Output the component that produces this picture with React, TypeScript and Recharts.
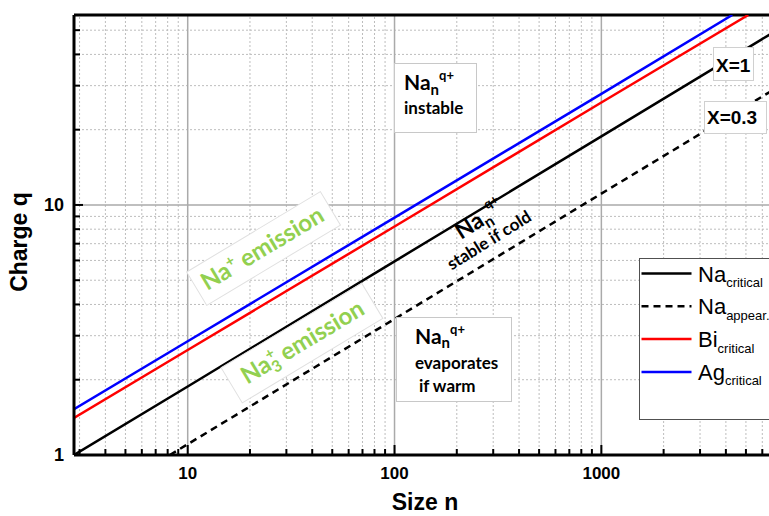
import React from 'react';
import { LineChart, Line, XAxis, YAxis, ReferenceLine, Legend } from 'recharts';

// ---------- axis ticks ----------
const xTicks = [3, 4, 5, 6, 7, 8, 9, 10, 20, 30, 40, 50, 60, 70, 80, 90, 100, 200, 300, 400, 500, 600, 700, 800, 900, 1000, 2000, 3000, 4000, 5000, 6000];
const xLabelTicks = [10, 100, 1000];
const yTicks = [1, 2, 3, 4, 5, 6, 7, 8, 9, 10, 20, 30, 40, 50];
const yLabelTicks = [1, 10];
const xDomain = [2.82, 6610];
const yDomain = [1, 57.5];

// ---------- series ----------
const naCriticalN = [2.82, 10, 100, 1000, 6610];
const naCriticalQ = [1.0, 1.88, 5.95, 18.8, 48.4];
const naAppearN = [8.2, 100, 1000, 6610];
const naAppearQ = [1.0, 3.5, 11.1, 28.5];
const biCriticalN = [2.82, 10, 100, 1000, 5130];
const biCriticalQ = [1.406, 2.63, 8.2, 25.7, 57.5];
const agCriticalN = [2.82, 10, 100, 1000, 4295];
const agCriticalQ = [1.524, 2.85, 8.9, 27.8, 57.5];

// ---------- legend ----------
const legendBase = ['Na', 'Na', 'Bi', 'Ag'];
const legendSub = ['critical', 'appear.', 'critical', 'critical'];
const seriesColors = ['#000000', '#000000', '#ff0000', '#0000ff'];
const seriesDash = ['', '7 5', '', ''];

const toPts = (ns: number[], qs: number[]) => ns.map((n, i) => ({ n, q: qs[i] }));
const seriesData = [
  toPts(naCriticalN, naCriticalQ),
  toPts(naAppearN, naAppearQ),
  toPts(biCriticalN, biCriticalQ),
  toPts(agCriticalN, agCriticalQ),
];
const seriesNames = ['Na critical', 'Na appear.', 'Bi critical', 'Ag critical'];

const AX = "'Liberation Sans', Arial, sans-serif";
const ANN = "Lato, 'Liberation Sans', sans-serif";
const GREEN = '#92D050';

const XTick = (props: any) => {
  const { x, y, payload } = props;
  const v = payload.value;
  const major = xLabelTicks.includes(v);
  return (
    <g>
      <line x1={x} x2={x} y1={y} y2={y - (major ? 10 : 6)} stroke="#000" strokeWidth={2} />
      {major && (
        <text x={x} y={y + 24} textAnchor="middle" fontFamily={AX} fontWeight="bold" fontSize={17} fill="#000">
          {v}
        </text>
      )}
    </g>
  );
};

const YTick = (props: any) => {
  const { x, y, payload } = props;
  const v = payload.value;
  const major = yLabelTicks.includes(v);
  return (
    <g>
      <line x1={x} x2={x + (major ? 9 : 6)} y1={y} y2={y} stroke="#000" strokeWidth={2} />
      {major && (
        <text x={x - 10} y={y + 6} textAnchor="end" fontFamily={AX} fontWeight="bold" fontSize={18} fill="#000">
          {v}
        </text>
      )}
    </g>
  );
};

const renderLegend = () => (
  <svg width={150} height={163} style={{ display: 'block' }}>
    <rect x={0.5} y={0.5} width={149} height={161} fill="#fff" stroke="#505050" strokeWidth={1} />
    {legendBase.map((b, i) => {
      const cy = 15.5 + i * 32.8;
      return (
        <g key={i}>
          <line x1={2.5} x2={52.5} y1={cy} y2={cy} stroke={seriesColors[i]} strokeWidth={2.5} strokeDasharray={seriesDash[i] || undefined} />
          <text x={59} y={cy + 8} fontFamily={AX} fontSize={22} fill="#000">
            {b}
            <tspan dy={5.5} fontSize={13}>{legendSub[i]}</tspan>
          </text>
        </g>
      );
    })}
  </svg>
);

const Annotations = () => (
  <svg width={769} height={516} style={{ position: 'absolute', left: 0, top: 0, pointerEvents: 'none' }}>
    {/* instable */}
    <rect x={394.5} y={63.5} width={82} height={69} fill="#fff" stroke="#c8c8c8" />
    <text x={404} y={90} fontFamily={ANN} fontWeight="bold" fontSize={21} fill="#000">
      Na<tspan dy={5} fontSize={15}>n</tspan>
      <tspan dy={-15} fontSize={13}>q+</tspan>
    </text>
    <text x={404} y={114} fontFamily={ANN} fontWeight="bold" fontSize={17} fill="#000">instable</text>

    {/* X=1 */}
    <rect x={713.5} y={47.5} width={40} height={33} fill="#fff" stroke="#d0d0d0" />
    <text x={716} y={71.5} fontFamily={AX} fontWeight="bold" fontSize={19} fill="#000">X=1</text>

    {/* X=0.3 */}
    <rect x={704.5} y={101.5} width={62} height={32} fill="#fff" stroke="#d0d0d0" />
    <text x={707} y={124} fontFamily={AX} fontWeight="bold" fontSize={19} fill="#000">X=0.3</text>

    {/* Na+ emission */}
    <g transform="translate(264,257) rotate(-31)">
      <rect x={-74} y={-27} width={156} height={39} fill="#fff" stroke="#e0e0e0" />
      <text x={3} y={0} textAnchor="middle" fontFamily={ANN} fontWeight="bold" fontSize={24} fill={GREEN}>
        Na<tspan dy={-9} fontSize={15}>+</tspan>
        <tspan dy={9}> emission</tspan>
      </text>
    </g>

    {/* Na3+ emission */}
    <g transform="translate(305,350) rotate(-31)">
      <rect x={-81} y={-28} width={164} height={41} fill="#fff" stroke="#e0e0e0" />
      <text x={2} y={0} textAnchor="middle" fontFamily={ANN} fontWeight="bold" fontSize={24} fill={GREEN}>
        Na<tspan dy={5} fontSize={16}>3</tspan>
        <tspan dx={-9} dy={-15} fontSize={15}>+</tspan>
        <tspan dy={10}> emission</tspan>
      </text>
    </g>

    {/* stable if cold */}
    <g transform="translate(461,240) rotate(-32)">
      <text x={0} y={0} fontFamily={ANN} fontWeight="bold" fontSize={23} fill="#000">
        Na<tspan dy={5} fontSize={16}>n</tspan>
        <tspan dy={-17} fontSize={13}>q+</tspan>
      </text>
      <text x={-24} y={21} fontFamily={ANN} fontWeight="bold" fontSize={17} fill="#000">stable if cold</text>
    </g>

    {/* evaporates if warm */}
    <rect x={396.5} y={317.5} width={115} height={84} fill="#fff" stroke="#c8c8c8" />
    <text x={415} y={344} fontFamily={ANN} fontWeight="bold" fontSize={21} fill="#000">
      Na<tspan dy={4} fontSize={15}>n</tspan>
      <tspan dy={-14} fontSize={13}>q+</tspan>
    </text>
    <text x={415} y={369} fontFamily={ANN} fontWeight="bold" fontSize={17} fill="#000">evaporates</text>
    <text x={419} y={392} fontFamily={ANN} fontWeight="bold" fontSize={17} fill="#000">if warm</text>
  </svg>
);

const yTitle = () => (
  <text x={27} y={242} transform="rotate(-90 27 242)" textAnchor="middle" fontFamily={AX} fontWeight="bold" fontSize={23} fill="#000">
    Charge q
  </text>
);

const xTitle = () => (
  <text x={425} y={510} textAnchor="middle" fontFamily={AX} fontWeight="bold" fontSize={23} fill="#000">
    Size n
  </text>
);

export default function App() {
  const xGridMinor = xTicks.filter((v) => !xLabelTicks.includes(v));
  const yGridMinor = yTicks.filter((v) => !yLabelTicks.includes(v));
  return (
    <div style={{ position: 'absolute', left: 0, top: 0, width: 769, height: 516, overflow: 'hidden', background: '#fff' }}>
      <LineChart width={772} height={516} margin={{ top: 15, right: 1, bottom: 0, left: 0 }}>
        <XAxis
          dataKey="n"
          type="number"
          scale="log"
          domain={xDomain}
          allowDataOverflow
          ticks={xTicks}
          interval={0}
          tickSize={0}
          tickMargin={0}
          tick={<XTick />}
          axisLine={{ stroke: '#000', strokeWidth: 3 }}
          height={61}
          label={{ value: 'Size n', content: xTitle }}
        />
        <YAxis
          dataKey="q"
          type="number"
          scale="log"
          domain={yDomain}
          allowDataOverflow
          ticks={yTicks}
          interval={0}
          tickSize={0}
          tickMargin={0}
          tick={<YTick />}
          axisLine={{ stroke: '#000', strokeWidth: 3 }}
          width={74}
          label={{ value: 'Charge q', content: yTitle }}
        />
        {xGridMinor.map((v) => (
          <ReferenceLine key={'xm' + v} x={v} stroke="#bdbdbd" strokeWidth={1} strokeDasharray="2 2" />
        ))}
        {yGridMinor.map((v) => (
          <ReferenceLine key={'ym' + v} y={v} stroke="#bdbdbd" strokeWidth={1} strokeDasharray="2 2" />
        ))}
        {xLabelTicks.map((v) => (
          <ReferenceLine key={'xM' + v} x={v} stroke="#aaaaaa" strokeWidth={1.5} />
        ))}
        <ReferenceLine y={10} stroke="#aaaaaa" strokeWidth={1.5} />
        <ReferenceLine y={yDomain[1]} stroke="#000" strokeWidth={3} ifOverflow="visible" />
        <Legend
          layout="vertical"
          align="center"
          verticalAlign="middle"
          content={renderLegend}
          wrapperStyle={{ left: 639, top: 258, width: 150, height: 163, margin: 0, padding: 0 }}
        />
        {seriesData.map((d, i) => (
          <Line
            key={seriesNames[i]}
            name={seriesNames[i]}
            data={d}
            dataKey="q"
            stroke={seriesColors[i]}
            strokeWidth={2.5}
            strokeDasharray={seriesDash[i] || undefined}
            dot={false}
            activeDot={false}
            isAnimationActive={false}
          />
        ))}
      </LineChart>
      <Annotations />
    </div>
  );
}
